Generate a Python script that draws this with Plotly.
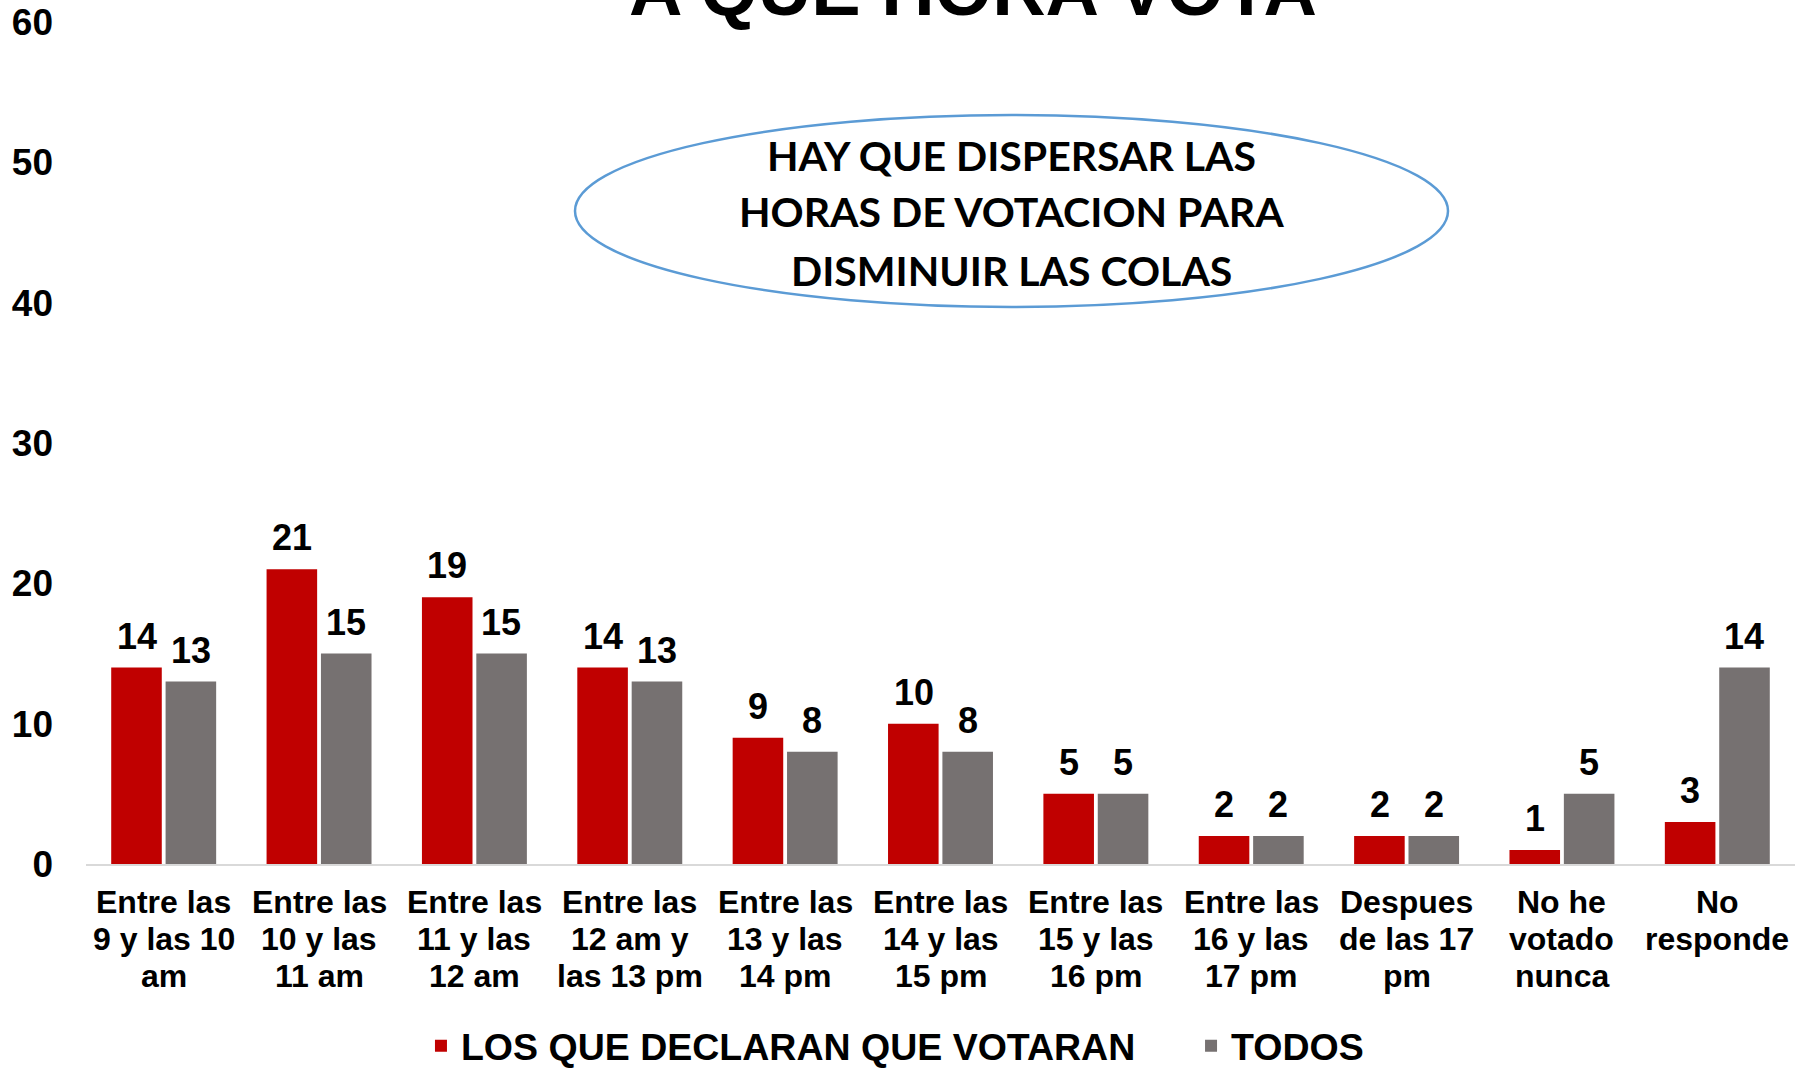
import plotly.graph_objects as go

categories = [
    "Entre las<br>9 y las 10<br>am",
    "Entre las<br>10 y las<br>11 am",
    "Entre las<br>11 y las<br>12 am",
    "Entre las<br>12 am y<br>las 13 pm",
    "Entre las<br>13 y las<br>14 pm",
    "Entre las<br>14 y las<br>15 pm",
    "Entre las<br>15 y las<br>16 pm",
    "Entre las<br>16 y las<br>17 pm",
    "Despues<br>de las 17<br>pm",
    "No he<br>votado<br>nunca",
    "No<br>responde",
]
votaran = [14, 21, 19, 14, 9, 10, 5, 2, 2, 1, 3]
todos = [13, 15, 15, 13, 8, 8, 5, 2, 2, 5, 14]
series_names = ["LOS QUE DECLARAN QUE VOTARAN", "TODOS"]
y_ticks = [0, 10, 20, 30, 40, 50, 60]

RED = "#C00000"
GRAY = "#767171"
FONT = "Arial, Liberation Sans, sans-serif"

fig = go.Figure()
fig.add_trace(go.Bar(x=categories, y=votaran, name=series_names[0],
                     marker=dict(color=RED, line=dict(width=0)), legend="legend"))
fig.add_trace(go.Bar(x=categories, y=todos, name=series_names[1],
                     marker=dict(color=GRAY, line=dict(width=0)), legend="legend2"))

annotations = []
for vals, shift in ((votaran, -27), (todos, 27)):
    for c, v in zip(categories, vals):
        annotations.append(dict(x=c, y=v, xref="x", yref="y", text=str(v),
                                showarrow=False, xshift=shift, yshift=9,
                                yanchor="bottom",
                                font=dict(family=FONT, size=36, color="black",
                                          weight="bold")))

# Category labels, one annotation per line for tighter line spacing
for c in categories:
    for j, line in enumerate(c.split("<br>")):
        annotations.append(dict(x=c, y=0, xref="x", yref="y", text=line,
                                showarrow=False, xanchor="center", yanchor="middle",
                                yshift=-(38 + 37 * j),
                                font=dict(family=FONT, size=32, color="black",
                                          weight="bold")))

# Title (partly cut off at top, as in the reference)
annotations.append(dict(x=0.519, y=0.987, xref="paper", yref="paper",
                        text="A QUE HORA VOTA", showarrow=False,
                        xanchor="center", yanchor="bottom",
                        font=dict(family=FONT, size=74, color="black", weight="bold")))

# Text in ellipse
ell_lines = ["HAY QUE DISPERSAR LAS", "HORAS DE VOTACION PARA", "DISMINUIR LAS COLAS"]
ell_y_px = [156, 212, 270]
for line, py in zip(ell_lines, ell_y_px):
    annotations.append(dict(x=(1011 - 86) / 1709, y=(864 - py) / 842,
                            xref="paper", yref="paper", text=line,
                            showarrow=False, xanchor="center", yanchor="middle",
                            font=dict(family="Lato, Open Sans, sans-serif", size=41,
                                      color="black", weight="bold")))

fig.update_layout(
    width=1810, height=1068,
    margin=dict(l=86, r=15, t=22, b=204, autoexpand=False),
    paper_bgcolor="white", plot_bgcolor="white",
    barmode="group", bargap=0.3, bargroupgap=0.07,
    showlegend=True,
    legend=dict(orientation="h", x=0.196, y=-0.216, xanchor="left", yanchor="middle",
                font=dict(family=FONT, size=37.5, color="black", weight="bold"),
                bgcolor="rgba(0,0,0,0)"),
    legend2=dict(orientation="h", x=0.6466, y=-0.216, xanchor="left", yanchor="middle",
                 font=dict(family=FONT, size=37.5, color="black", weight="bold"),
                 bgcolor="rgba(0,0,0,0)"),
    xaxis=dict(showline=True, linecolor="#D9D9D9", linewidth=2, showgrid=False,
               ticks="", showticklabels=False, zeroline=False),
    yaxis=dict(range=[0, 60], tickvals=y_ticks, showgrid=False, zeroline=False,
               showline=False, ticks="", ticklabelstandoff=32,
               tickfont=dict(family=FONT, size=37, color="black", weight="bold")),
    annotations=annotations,
    shapes=[dict(type="circle", xref="paper", yref="paper",
                 x0=(575 - 86) / 1709, x1=(1448 - 86) / 1709,
                 y0=(864 - 307) / 842, y1=(864 - 115) / 842,
                 line=dict(color="#5B9BD5", width=2.5), fillcolor="rgba(0,0,0,0)")],
)

fig.write_html("out.html", config={"displayModeBar": False},
               post_script="document.body.style.margin='0';document.body.style.overflow='hidden';")
